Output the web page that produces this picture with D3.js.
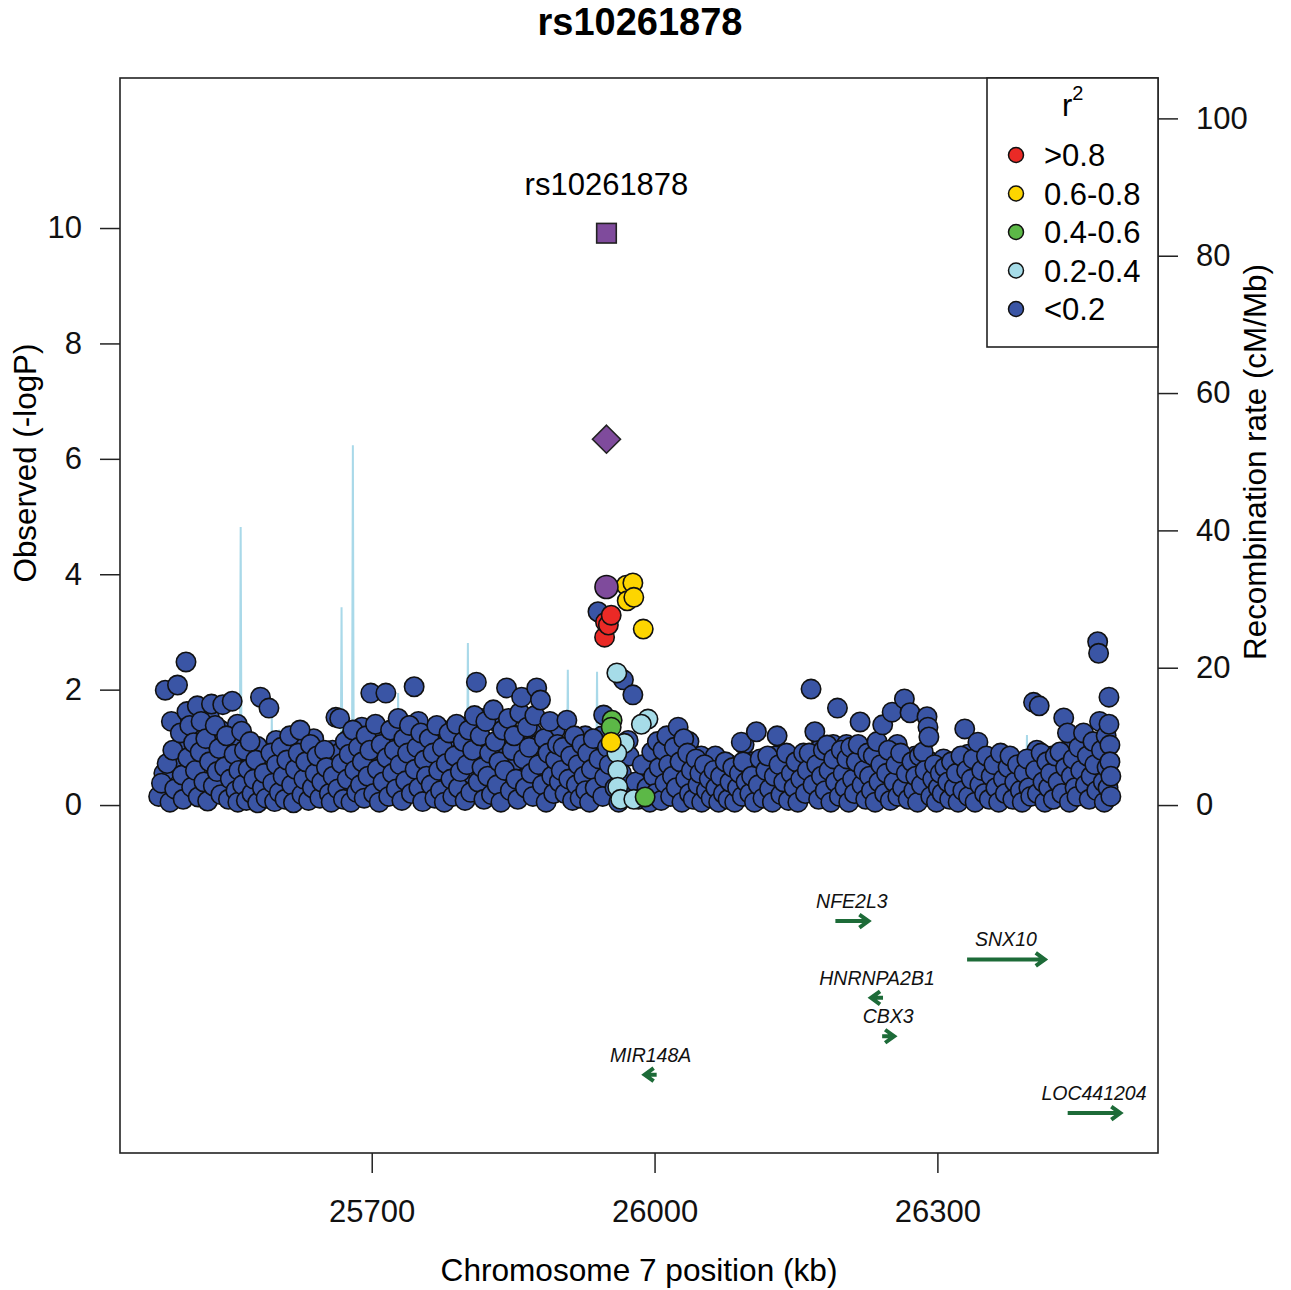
<!DOCTYPE html>
<html>
<head>
<meta charset="utf-8">
<style>
  body { margin: 0; background: #fff; }
  svg { font-family: "Liberation Sans", Arial, sans-serif; }
</style>
</head>
<body>
<script src="https://d3js.org/d3.v7.min.js"></script>
<script>
// ---- data: positions in kb, association as -log10 P ----
var leadName = "rs10261878";
var leadSnp = [25949, 9.91];        // square (combined)
var leadDiamond = [25949, 6.34];    // diamond (replication)
var leadCircle = [25949, 3.78];     // discovery

var redSnps = [[25947, 2.91], [25948, 3.17], [25951, 3.12], [25954, 3.29]];
var yellowSnps = [[25970, 3.81], [25977, 3.85], [25971, 3.54], [25978, 3.6], [25988, 3.05], [25954, 1.09]];
var greenSnps = [[25955, 1.47], [25954, 1.35], [25990, 0.14]];
var lightBlueSnps = [[25960, 2.29], [25993, 1.49], [25986, 1.40], [25968, 1.07], [25960, 0.9],
  [25961, 0.6], [25961, 0.31], [25964, 0.1], [25978, 0.1]];

var blueSnps = [
  [25474,0.15],[25477,0.38],[25481,1.99],[25483,0.72],[25486,0.05],[25489,0.95],[25494,2.08],[25491,0.28],
  [25497,1.25],[25499,0.52],[25500,0.1],[25503,2.48],[25504,1.62],[25505,0.82],[25507,1.38],[25509,0.31],
  [25511,1.08],[25513,0.6],[25515,1.72],[25516,0.14],[25518,0.92],[25519,1.45],
  [25522,0.4],[25524,1.15],[25526,0.07],[25528,0.75],[25530,1.75],[25532,0.33],[25534,1.38],[25536,0.58],
  [25538,0.98],[25540,0.18],[25542,1.74],[25544,0.66],[25546,1.2],[25548,0.1],[25550,0.45],[25552,1.8],
  [25554,0.88],[25556,0.25],[25558,0.05],[25559,0.6],
  [25562,1.28],[25563,0.35],[25565,0.95],[25567,0.08],[25569,0.62],[25571,1.1],[25573,0.2],[25575,0.45],
  [25577,0.78],[25579,0.04],[25582,1.87],[25584,0.3],[25586,0.55],[25588,0.12],[25591,1.68],[25593,0.9],
  [25595,0.38],[25597,0.06],[25599,0.7],
  [25602,0.22],[25604,1.0],[25606,0.5],[25608,0.1],[25610,0.78],[25613,1.2],[25615,0.35],[25617,0.04],
  [25619,0.62],[25622,0.9],[25624,1.3],[25626,0.18],[25628,0.45],[25630,0.75],[25633,0.08],[25635,1.05],
  [25637,0.3],[25640,0.55],[25642,0.85],[25645,0.12],[25647,0.4],[25650,0.95],[25652,0.65],[25655,0.2],
  [25657,0.05],[25659,0.5],
  [25662,1.52],[25664,0.28],[25666,1.5],[25668,0.72],[25670,0.1],[25672,1.1],[25674,0.45],[25676,0.88],
  [25678,0.05],[25680,1.3],[25682,0.6],[25684,0.22],[25686,1.0],[25688,0.35],[25690,0.75],[25692,0.12],
  [25694,1.2],[25696,0.5],[25698,0.95],[25699,1.94],
  [25702,0.2],[25704,1.4],[25706,0.62],[25708,0.05],[25710,1.05],[25712,0.4],[25715,1.94],[25716,0.82],
  [25718,0.15],[25720,1.3],[25722,0.55],[25724,0.95],[25726,0.28],[25728,1.5],[25730,0.7],[25732,0.08],
  [25734,1.15],[25736,0.42],[25738,0.9],[25740,1.38],[25742,0.2],[25745,2.05],[25746,0.62],[25748,1.0],
  [25750,0.3],[25752,1.25],[25754,0.06],[25756,0.78],[25758,0.5],
  [25761,1.15],[25763,0.35],[25765,0.9],[25767,0.12],[25769,1.38],[25771,0.6],[25773,0.25],[25775,1.0],
  [25777,0.05],[25779,0.72],[25782,1.25],[25784,0.45],[25786,0.15],[25788,0.85],[25790,1.4],[25792,0.3],
  [25794,0.58],[25797,1.1],[25799,0.08],[25801,0.7],[25803,1.3],[25805,0.22],[25807,0.95],[25809,1.55],
  [25811,2.13],[25813,0.4],[25815,1.2],[25817,0.65],[25819,0.1],
  [25821,1.45],[25823,0.5],[25825,0.9],[25827,0.18],[25829,1.65],[25831,1.1],[25833,0.35],[25835,0.75],
  [25837,0.05],[25839,1.3],[25841,0.6],[25843,2.03],[25845,1.5],[25847,0.25],[25849,0.95],[25851,1.2],
  [25853,0.45],[25855,0.1],[25857,1.6],[25859,1.87],[25861,0.8],[25863,0.3],[25865,1.35],[25867,1.0],
  [25869,0.55],[25871,0.15],[25873,1.55],[25875,2.03],[25877,0.7],[25879,1.82],[25881,0.35],[25883,1.15],
  [25885,0.05],[25887,0.9],[25889,1.45],[25891,0.5],[25893,0.2],[25895,0.78],[25897,1.05],[25899,0.4],
  [25901,0.6],[25903,1.0],[25905,0.2],[25907,1.47],[25909,0.45],[25911,0.85],[25913,0.08],[25915,1.2],
  [25917,0.35],[25919,0.7],[25921,0.12],[25923,1.05],[25925,0.5],[25927,0.25],[25929,0.9],[25931,0.05],
  [25933,0.62],[25935,1.15],[25937,0.3],[25940,3.35],[25941,0.8],[25946,1.56],[25945,0.15],[25947,0.48],
  [25950,1.0],[25952,0.7],[25967,2.17],[25977,1.91],[25972,1.12],
  [25958,0.3],[25962,0.05],[25965,0.55],[25970,0.2],[25973,0.85],[25980,0.4],[25983,0.1],[25987,0.7],
  [25992,0.3],[25995,0.05],[25997,0.92],[25999,0.5],[26001,0.2],[26003,1.1],[26005,0.65],[26007,0.08],
  [26009,0.95],[26011,0.38],[26013,1.2],[26015,0.7],[26017,0.15],[26019,0.5],
  [26021,1.0],[26023,0.3],[26025,1.35],[26027,0.75],[26029,0.05],[26031,1.15],[26033,0.45],[26035,0.9],
  [26037,0.2],[26039,0.6],[26041,0.1],[26044,0.8],[26046,0.35],[26048,0.55],[26050,0.05],[26053,0.7],
  [26055,0.25],[26058,0.45],[26060,0.12],[26063,0.6],[26065,0.3],[26068,0.05],[26070,0.5],[26073,0.2],
  [26075,0.75],[26078,0.1],[26080,0.4],[26083,0.65],[26085,0.05],[26088,0.3],[26090,0.55],[26093,0.15],
  [26095,1.05],[26097,0.4],[26099,0.7],
  [26092,1.09],[26094,0.75],[26101,0.2],[26103,0.5],[26106,0.05],[26108,1.27],[26110,0.35],[26112,0.8],
  [26115,0.12],[26118,0.6],[26120,0.85],[26122,0.28],[26125,0.05],[26127,0.5],[26130,1.2],[26132,0.7],
  [26134,0.18],[26137,0.4],[26140,0.9],[26142,0.08],[26145,0.55],[26148,0.3],[26150,0.75],[26152,0.05],
  [26155,0.45],[26158,0.9],[26160,0.2],[26162,0.6],[26164,0.9],[26166,2.01],[26168,0.35],[26170,1.27],
  [26172,0.7],[26174,0.1],[26177,0.5],[26179,0.95],
  [26181,0.25],[26183,1.04],[26185,0.6],[26187,0.05],[26190,0.8],[26192,0.4],[26194,1.68],[26196,0.15],
  [26198,0.95],[26200,0.55],[26202,0.3],[26204,0.8],[26206,0.05],[26208,1.0],[26210,0.45],[26212,0.2],
  [26214,0.75],[26216,1.05],[26218,1.44],[26220,0.35],[26222,0.6],[26224,0.1],[26226,0.9],[26228,0.5],
  [26230,0.25],[26232,0.85],[26234,0.05],[26236,1.1],[26238,0.4],[26240,0.7],[26242,1.39],[26244,0.2],
  [26246,0.55],[26248,0.95],[26250,0.08],[26252,1.61],[26254,0.4],[26256,0.7],[26258,0.15],
  [26261,0.9],[26263,0.3],[26265,1.84],[26267,0.55],[26269,0.1],[26271,1.6],[26273,0.75],[26275,0.25],
  [26277,0.5],[26279,0.05],[26281,0.85],[26283,0.35],[26285,0.92],[26287,0.6],[26289,1.53],[26290,1.35],
  [26291,1.18],[26293,0.15],[26295,0.45],[26297,0.7],[26299,0.05],[26301,0.3],[26303,0.55],[26305,0.2],
  [26308,0.65],
  [26311,0.4],[26313,0.1],[26315,0.75],[26318,0.3],[26320,0.55],[26322,0.05],[26325,0.85],[26327,0.25],
  [26329,1.32],[26331,0.6],[26333,0.15],[26336,0.45],[26338,0.8],[26340,0.05],[26343,1.09],[26345,0.35],
  [26347,0.6],[26350,0.2],[26352,0.85],[26355,0.1],[26357,0.5],[26360,0.7],[26362,0.3],[26365,0.05],
  [26367,0.9],[26370,0.45],[26372,0.2],[26375,0.65],[26377,0.85],[26380,0.1],[26382,0.4],[26385,0.7],
  [26388,0.25],[26390,0.05],[26392,0.55],[26395,0.8],[26397,0.3],[26399,0.15],
  [26402,1.78],[26404,0.6],[26406,0.2],[26408,1.72],[26410,0.9],[26412,0.4],[26414,0.05],[26416,0.75],
  [26418,0.3],[26420,0.55],[26423,0.1],[26425,0.85],[26428,0.4],[26430,0.92],[26432,0.2],[26434,1.51],
  [26436,0.65],[26438,1.25],[26440,0.05],[26442,0.5],[26444,0.8],[26446,0.3],[26448,0.15],[26450,1.0],
  [26452,0.6],[26455,1.25],[26457,0.35],[26459,0.85],[26461,0.1],[26463,0.5],[26465,1.1],[26467,0.7],
  [26469,0.25],[26470,2.83],[26471,2.63],[26472,1.45],[26474,0.95],[26476,0.4],[26477,0.05],[26479,1.2],
  [26482,1.87],[26480,0.65],[26482,1.4],[26483,1.04],[26481,0.3],[26483,0.75],[26484,0.15],[26484,0.5]
];

// more low-LD SNPs filling the dense band
var blueSnpsFill = [
  [25479.5,0.55],[25487.5,1.45],[25495.5,0.72],[25501.5,1.1],[25508.5,0.2],[25514.5,1.28],[25520.5,0.85],
  [25527.5,1.55],[25533.5,0.9],[25539.5,1.3],[25545.5,0.35],[25551.5,1.05],[25557.5,1.4],
  [25566.5,0.45],[25572.5,0.82],[25578.5,1.02],[25585.5,0.7],[25592.5,0.22],[25598.5,1.12],
  [25605.5,0.75],[25611.5,0.3],[25618.5,1.05],[25625.5,0.6],[25632.5,0.95],[25638.5,1.15],[25644.5,0.7],
  [25651.5,0.3],[25658.5,0.95],[25665.5,0.9],[25671.5,0.5],[25677.5,1.18],[25683.5,0.95],[25689.5,1.35],
  [25695.5,0.25],[25703.5,0.88],[25709.5,1.25],[25714.5,0.35],[25719.5,0.98],[25725.5,1.2],[25731.5,1.42],
  [25737.5,0.65],[25743.5,1.1],[25749.5,1.45],[25755.5,1.05],[25762.5,0.6],[25768.5,0.95],[25774.5,1.3],
  [25780.5,0.4],[25787.5,1.15],[25793.5,0.9],[25798.5,1.35],[25804.5,0.55],[25810.5,0.9],[25816.5,1.5],
  [25822.5,0.25],[25828.5,0.7],[25834.5,1.42],[25840.5,0.95],[25846.5,1.25],[25852.5,0.75],[25858.5,0.45],
  [25864.5,0.95],[25870.5,1.25],[25876.5,1.05],[25882.5,0.6],[25888.5,0.3],[25894.5,1.3],
  [25902.5,0.85],[25908.5,0.7],[25914.5,0.4],[25920.5,0.95],[25926.5,1.2],[25932.5,0.85],[25938.5,0.55],
  [25944.5,1.2],[25985.5,0.25],[25994.5,0.65],[26000.5,0.85],[26006.5,0.35],[26012.5,0.7],[26018.5,1.0],
  [26024.5,0.55],[26030.5,0.82],[26036.5,1.1],[26042.5,0.4],[26049.5,0.85],[26056.5,0.65],[26064.5,0.85],
  [26071.5,0.45],[26079.5,0.7],[26086.5,0.6],[26104.5,0.75],[26113.5,0.45],[26121.5,0.6],[26128.5,0.85],
  [26136.5,0.7],[26143.5,0.35],[26151.5,0.6],[26157.5,0.25],[26165.5,0.5],[26173.5,0.95],
  [26182.5,0.7],[26189.5,1.05],[26197.5,0.62],[26203.5,1.05],[26211.5,0.8],[26219.5,0.95],[26227.5,0.7],
  [26235.5,0.6],[26243.5,0.8],[26251.5,0.5],[26257.5,1.05],[26264.5,0.65],[26270.5,0.4],[26276.5,0.85],
  [26284.5,0.6],[26292.5,0.75],[26298.5,0.4],[26306.5,0.8],[26316.5,0.6],[26323.5,0.35],[26332.5,0.88],
  [26341.5,0.65],[26348.5,0.4],[26356.5,0.75],[26364.5,0.6],[26371.5,0.8],[26379.5,0.55],[26387.5,0.45],
  [26394.5,0.35],[26405.5,0.95],[26413.5,0.7],[26421.5,0.85],[26429.5,0.65],[26437.5,0.95],[26445.5,0.55],
  [26453.5,0.8],[26460.5,1.05],[26468.5,0.9],[26475.5,0.7],[26478.5,1.1]
];

// recombination rate, cM/Mb
var recomb = [
  [25475,0.4],[25490,0.8],[25505,0.5],[25520,1.2],[25535,0.6],[25550,0.9],[25560,0.7],[25561,40.5],
  [25562,0.8],[25575,1.0],[25590,0.6],[25593,0.9],[25594,12.8],[25595,1.1],[25601,0.8],[25602,11.0],
  [25603,0.7],[25620,0.5],[25640,1.2],[25655,0.8],[25667,1.0],[25668,28.8],[25669,1.2],[25679,0.9],
  [25680,52.4],[25681,1.5],[25695,0.8],[25710,1.1],[25727,0.9],[25728,16.3],[25729,1.0],[25745,0.6],
  [25760,0.9],[25780,0.7],[25801,1.0],[25802,23.6],[25803,1.1],[25820,0.8],[25840,1.0],[25860,0.6],
  [25880,0.9],[25907,0.8],[25908,19.7],[25909,0.9],[25925,0.6],[25938,0.8],[25939,19.4],[25940,0.9],
  [25960,0.5],[25990,0.7],[26020,0.4],[26060,0.6],[26100,0.5],[26140,0.7],[26180,0.5],[26220,0.6],
  [26260,0.8],[26285,1.5],[26302,0.9],[26303,7.7],[26307,7.7],[26308,1.0],[26330,0.6],[26360,0.8],
  [26394,1.0],[26395,10.2],[26396,1.1],[26420,0.8],[26450,1.2],[26470,2.0],[26483,1.0],[26493,0.5]
];

// genes: name, start kb, end kb, strand, track row
var genes = [
  ["NFE2L3", 26191.8, 26226.8, "+", 0],
  ["SNX10", 26331.5, 26413.9, "+", 1],
  ["HNRNPA2B1", 26229.6, 26240.8, "-", 2],
  ["CBX3", 26241.4, 26253.0, "+", 3],
  ["MIR148A", 25989.5, 25989.6, "-", 4],
  ["LOC441204", 26438.2, 26494.0, "+", 5]
];

var xTicks = [25700, 26000, 26300];
var yTicks = [0, 2, 4, 6, 8, 10];
var recombTicks = [0, 20, 40, 60, 80, 100];
var legendLabels = [">0.8", "0.6-0.8", "0.4-0.6", "0.2-0.4", "<0.2"];
var legendColors = ["#ea2a26", "#fdd500", "#5cb847", "#a6dce8", "#3a55a5"];

// ---- drawing ----
var W = 1291, H = 1290;
var pL = 120, pR = 1158, pT = 78, pB = 1153;

var svg = d3.select("body").append("svg").attr("width", W).attr("height", H);

var x = d3.scaleLinear().domain([25433, 26534]).range([pL, pR]);
var y = d3.scaleLinear().domain([-6.03, 12.6]).range([pB, pT]);
var y2 = d3.scaleLinear().domain([0, 100]).range([y(0), y(11.9)]);

// title
svg.append("text").attr("x", 640).attr("y", 35).attr("text-anchor", "middle")
  .style("font-size", "38px").style("font-weight", "bold").text(leadName);

// recombination line
svg.append("path").datum(recomb)
  .attr("fill", "none").attr("stroke", "#a9d9e9").attr("stroke-width", 2)
  .attr("d", d3.line().x(d => x(d[0])).y(d => y2(d[1])));

function dots(data, color, r) {
  svg.append("g").selectAll("circle").data(data).join("circle")
    .attr("cx", d => x(d[0])).attr("cy", d => y(d[1])).attr("r", r || 9.7)
    .attr("fill", color).attr("stroke", "#111").attr("stroke-width", 1.6);
}
dots(blueSnpsFill, legendColors[4]);
dots(blueSnps, legendColors[4]);
dots(lightBlueSnps, legendColors[3]);
dots(greenSnps, legendColors[2]);
dots(yellowSnps, legendColors[1]);
dots(redSnps, legendColors[0]);
dots([leadCircle], "#7f4b9c", 11.5);

// lead square & diamond
svg.append("rect")
  .attr("x", x(leadSnp[0]) - 9.8).attr("y", y(leadSnp[1]) - 9.8)
  .attr("width", 19.6).attr("height", 19.6)
  .attr("fill", "#7f4b9c").attr("stroke", "#222").attr("stroke-width", 1.6);
svg.append("path")
  .attr("transform", "translate(" + x(leadDiamond[0]) + "," + y(leadDiamond[1]) + ")")
  .attr("d", "M0,-14L14,0L0,14L-14,0Z")
  .attr("fill", "#7f4b9c").attr("stroke", "#222").attr("stroke-width", 1.6);
svg.append("text").attr("x", x(leadSnp[0])).attr("y", y(leadSnp[1]) - 38)
  .attr("text-anchor", "middle").style("font-size", "31px").text(leadName);

// genes: arrow starts at the gene start, with a minimum drawn length
var geneColor = "#1d6b38";
genes.forEach(function (g) {
  var x1 = x(g[1]), x2 = x(g[2]);
  var rowY = y(0) + 116 + g[4] * 38.4;
  var tail, tip;
  if (g[3] === "+") { tail = x1; tip = Math.max(x2, x1 + 12); }
  else { tip = x1; tail = Math.max(x2, x1 + 12); }
  var dir = tip > tail ? 1 : -1;
  svg.append("path")
    .attr("d", "M" + tail + "," + rowY + "L" + tip + "," + rowY +
      "M" + (tip - dir * 9) + "," + (rowY - 6.5) + "L" + tip + "," + rowY + "L" + (tip - dir * 9) + "," + (rowY + 6.5))
    .attr("fill", "none").attr("stroke", geneColor).attr("stroke-width", 4);
  svg.append("text").attr("x", (tail + tip) / 2).attr("y", rowY - 13)
    .attr("text-anchor", "middle").style("font-size", "19.5px").style("font-style", "italic")
    .attr("fill", "#111").text(g[0]);
});

// axes
function styleAxis(g) {
  g.select(".domain").remove();
  g.selectAll("line").attr("stroke", "#222").attr("stroke-width", 1.5);
  g.selectAll("text").style("font-size", "31px").attr("fill", "#111")
    .style("font-family", "'Liberation Sans', Arial, sans-serif");
}
svg.append("g").attr("transform", "translate(" + pL + ",0)")
  .call(d3.axisLeft(y).tickValues(yTicks).tickSize(20).tickPadding(18).tickFormat(d3.format("d")))
  .call(styleAxis);
svg.append("g").attr("transform", "translate(" + pR + ",0)")
  .call(d3.axisRight(y2).tickValues(recombTicks).tickSize(20).tickPadding(18).tickFormat(d3.format("d")))
  .call(styleAxis);
svg.append("g").attr("transform", "translate(0," + pB + ")")
  .call(d3.axisBottom(x).tickValues(xTicks).tickSize(20).tickPadding(27).tickFormat(d3.format("d")))
  .call(styleAxis);

// plot frame
svg.append("rect").attr("x", pL).attr("y", pT)
  .attr("width", pR - pL).attr("height", pB - pT)
  .attr("fill", "none").attr("stroke", "#222").attr("stroke-width", 1.6);

// axis titles
svg.append("text").attr("x", 639).attr("y", 1281).attr("text-anchor", "middle")
  .style("font-size", "31.6px").text("Chromosome 7 position (kb)");
svg.append("text").attr("transform", "translate(36,463) rotate(-90)").attr("text-anchor", "middle")
  .style("font-size", "31.4px").text("Observed (-logP)");
svg.append("text").attr("transform", "translate(1266,462) rotate(-90)").attr("text-anchor", "middle")
  .style("font-size", "31.4px").text("Recombination rate (cM/Mb)");

// legend
var lg = svg.append("g");
lg.append("rect").attr("x", 987).attr("y", pT).attr("width", pR - 987).attr("height", 269)
  .attr("fill", "#fff").attr("stroke", "#222").attr("stroke-width", 1.6);
var rt = lg.append("text").attr("x", 1062).attr("y", 116).style("font-size", "31px");
rt.append("tspan").text("r");
rt.append("tspan").attr("dy", -16).style("font-size", "20px").text("2");
legendLabels.forEach(function (lab, i) {
  var ly = 155 + i * 38.5;
  lg.append("circle").attr("cx", 1016).attr("cy", ly).attr("r", 7.5)
    .attr("fill", legendColors[i]).attr("stroke", "#111").attr("stroke-width", 1.5);
  lg.append("text").attr("x", 1044).attr("y", ly + 11).style("font-size", "31px").text(lab);
});
</script>
</body>
</html>
